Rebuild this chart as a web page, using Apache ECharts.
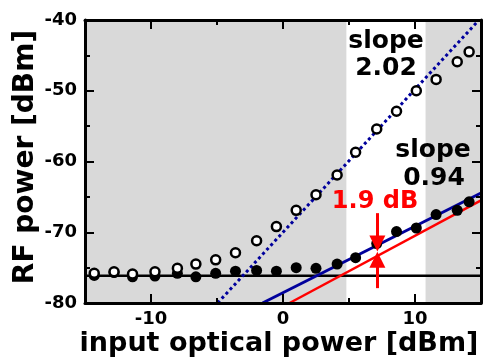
<!DOCTYPE html>
<html>
<head>
<meta charset="utf-8">
<script src="https://cdn.jsdelivr.net/npm/echarts@6/dist/echarts.min.js"></script>
<style>
  html, body { margin: 0; padding: 0; background: #fff; }
  #main { width: 490px; height: 360px; }
</style>
</head>
<body>
<div id="main"></div>
<script>
// input optical power [dBm]
const inputPower = [-14.3, -12.8, -11.4, -9.7, -8.0, -6.6, -5.1, -3.6, -2.0, -0.5,
  1.0, 2.5, 4.1, 5.5, 7.1, 8.6, 10.1, 11.6, 13.2, 14.1];
// RF power, open circles [dBm]
const rfOpen = [-75.8, -75.6, -75.9, -75.6, -75.1, -74.5, -73.9, -72.9, -71.2, -69.2,
  -66.9, -64.7, -61.9, -58.7, -55.4, -52.9, -50.0, -48.4, -45.9, -44.5];
// RF power, filled circles [dBm]
const rfFilled = [-76.1, -75.7, -76.3, -76.2, -75.8, -76.3, -75.8, -75.5, -75.4, -75.5,
  -75.0, -75.1, -74.5, -73.6, -71.6, -69.9, -69.4, -67.5, -66.9, -65.7];

// fitted lines, end points [x, y]
const fitSlope2 = [[-4.95, -80], [14.85, -40]];
const fitBlue = [[-1.55, -80], [15, -64.45]];
const fitRed = [[0.5, -80], [15, -65.5]];
const noiseFloor = [[-15, -76.15], [15, -76.15]];

// shaded x ranges
const shaded = [[-15, 4.8], [10.8, 15]];

// 1.9 dB arrows at x = 7.15
const arrowDown = [[7.15, -67.3], [7.15, -71.6]];
const arrowUp = [[7.15, -77.9], [7.15, -73.9]];

const majorX = [-10, 0, 10];
const minorX = [-5, 5];

const FONT = '"DejaVu Sans", "Liberation Sans", Arial, sans-serif';
const BLUE = '#00009c';
const RED = '#ff0000';

const chart = echarts.init(document.getElementById('main'), null, { renderer: 'canvas' });

function xAx(pos, ticks, len, withLine, withLabels) {
  return {
    type: 'value', position: pos, min: -15, max: 15, z: 10,
    splitLine: { show: false },
    axisLine: { show: withLine, onZero: false, lineStyle: { color: '#000', width: 3 } },
    axisTick: { show: true, inside: true, length: len, customValues: ticks,
      lineStyle: { color: '#000', width: 2 } },
    axisLabel: { show: withLabels, customValues: ticks, margin: 7, color: '#000',
      fontFamily: FONT, fontWeight: 'bold', fontSize: 18 }
  };
}

function yAx(pos, withLabels) {
  return {
    type: 'value', position: pos, min: -80, max: -40, interval: 10, z: 10,
    splitLine: { show: false },
    axisLine: { show: true, onZero: false, lineStyle: { color: '#000', width: 3 } },
    axisTick: { show: true, inside: true, length: 9, lineStyle: { color: '#000', width: 2 } },
    minorTick: { show: true, splitNumber: 2, length: 5, lineStyle: { color: '#000', width: 2 } },
    minorSplitLine: { show: false },
    axisLabel: { show: withLabels, margin: 8, color: '#000',
      fontFamily: FONT, fontWeight: 'bold', fontSize: 18 }
  };
}

const option = {
  animation: false,
  backgroundColor: '#fff',
  grid: { left: 85, right: 9, top: 20, bottom: 57 },
  xAxis: [
    xAx('bottom', majorX, 9, true, true),
    xAx('bottom', minorX, 5, false, false),
    xAx('top', majorX, 9, true, false),
    xAx('top', minorX, 5, false, false)
  ],
  yAxis: [yAx('left', true), yAx('right', false)],
  series: [
    {
      type: 'line', data: [], z: 1, silent: true,
      markArea: {
        silent: true,
        itemStyle: { color: '#d9d9d9' },
        data: shaded.map(r => [{ xAxis: r[0] }, { xAxis: r[1] }])
      }
    },
    {
      type: 'line', data: noiseFloor, z: 2, symbol: 'none', silent: true,
      lineStyle: { color: '#000', width: 2.5 }
    },
    {
      type: 'line', data: fitSlope2, z: 2, symbol: 'none', silent: true,
      lineStyle: { color: BLUE, width: 3, type: [3, 3] }
    },
    {
      type: 'line', data: fitBlue, z: 2, symbol: 'none', silent: true,
      lineStyle: { color: BLUE, width: 3 }
    },
    {
      type: 'line', data: fitRed, z: 2, symbol: 'none', silent: true,
      lineStyle: { color: RED, width: 2.5 },
      markLine: {
        silent: true,
        symbol: ['none', 'triangle'],
        symbolSize: 16,
        label: { show: false },
        lineStyle: { color: RED, width: 3, type: 'solid', opacity: 1 },
        data: [arrowDown, arrowUp].map(a => [{ coord: a[0] }, { coord: a[1] }])
      }
    },
    {
      type: 'scatter', z: 3, symbol: 'circle', symbolSize: 11,
      itemStyle: { color: '#000', opacity: 1 },
      data: inputPower.map((x, i) => [x, rfFilled[i]])
    },
    {
      type: 'scatter', z: 4, symbol: 'circle', symbolSize: 9,
      itemStyle: { color: '#fff', borderColor: '#000', borderWidth: 2.5, opacity: 1 },
      data: inputPower.map((x, i) => [x, rfOpen[i]])
    }
  ],
  graphic: [
    { type: 'text', x: 386, y: 41, z: 20,
      style: { text: 'slope', font: 'bold 25px ' + FONT, fill: '#000',
        textAlign: 'center', textVerticalAlign: 'middle' } },
    { type: 'text', x: 386, y: 68, z: 20,
      style: { text: '2.02', font: 'bold 25px ' + FONT, fill: '#000',
        textAlign: 'center', textVerticalAlign: 'middle' } },
    { type: 'text', x: 433, y: 150, z: 20,
      style: { text: 'slope', font: 'bold 25px ' + FONT, fill: '#000',
        textAlign: 'center', textVerticalAlign: 'middle' } },
    { type: 'text', x: 434, y: 178, z: 20,
      style: { text: '0.94', font: 'bold 25px ' + FONT, fill: '#000',
        textAlign: 'center', textVerticalAlign: 'middle' } },
    { type: 'text', x: 375, y: 202, z: 20,
      style: { text: '1.9 dB', font: 'bold 24px ' + FONT, fill: RED,
        textAlign: 'center', textVerticalAlign: 'middle' } },
    { type: 'text', x: 279, y: 344, z: 20,
      style: { text: 'input optical power [dBm]', font: 'bold 27px ' + FONT, fill: '#000',
        textAlign: 'center', textVerticalAlign: 'middle' } },
    { type: 'text', x: 26, y: 157, z: 20, rotation: Math.PI / 2,
      style: { text: 'RF power [dBm]', font: 'bold 28px ' + FONT, fill: '#000',
        textAlign: 'center', textVerticalAlign: 'middle' } }
  ]
};

chart.setOption(option);
</script>
</body>
</html>
